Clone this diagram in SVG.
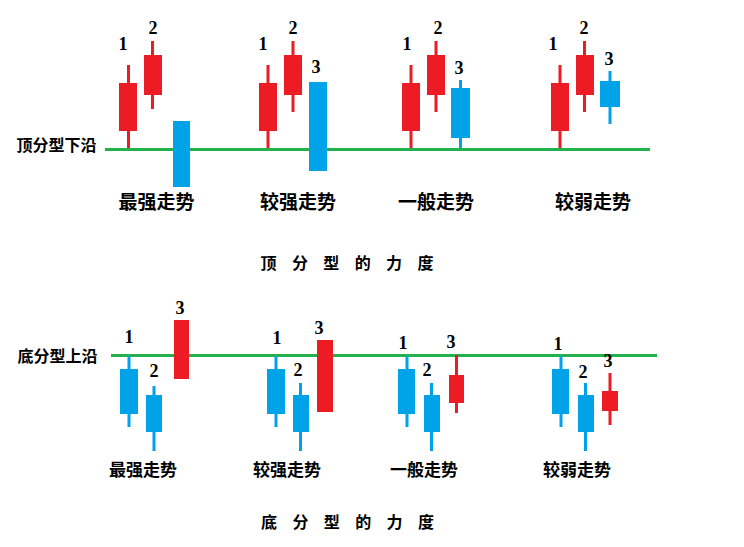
<svg xmlns="http://www.w3.org/2000/svg" width="744" height="547" viewBox="0 0 744 547">
<style>
.r{fill:#ED1C24}
.b{fill:#00A2E8}
.g{fill:#22B14C}
.n{font-family:"Liberation Serif",serif;font-size:18px;font-weight:bold;fill:#000;text-anchor:middle}
.c{font-family:"Noto Sans CJK SC",sans-serif;font-weight:bold;fill:#000;text-anchor:middle}
.lt{font-size:19px}
.lb{font-size:17px}
.s{font-size:16px}
</style>
<rect width="744" height="547" fill="#fff"/>
<g id="connectors">
<rect id="top-line" class="g" x="105" y="148" width="545" height="3"/>
<rect id="bottom-line" class="g" x="111" y="354" width="546" height="3"/>
</g>
<g id="top-labels">
<text class="c s" x="56.5" y="151">顶分型下沿</text>
<text class="c s" x="347" y="269" textLength="173" lengthAdjust="spacing">顶 分 型 的 力 度</text>
</g>
<g id="top-g1">
<rect class="r" x="127" y="65" width="3" height="83"/><rect class="r" x="119" y="83" width="18" height="48"/>
<rect class="r" x="151" y="41" width="3" height="68"/><rect class="r" x="144" y="55" width="18" height="40"/>
<rect class="b" x="173" y="121" width="17" height="66"/>
<text class="n" x="123" y="50">1</text><text class="n" x="153" y="34">2</text>
<text class="c lt" x="156.5" y="209">最强走势</text>
</g>
<g id="top-g2">
<rect class="r" x="266.5" y="65" width="3" height="83"/><rect class="r" x="259" y="83" width="18" height="48"/>
<rect class="r" x="291.5" y="41" width="3" height="71"/><rect class="r" x="284" y="55" width="18" height="40"/>
<rect class="b" x="309" y="82" width="18" height="89"/>
<text class="n" x="263" y="50">1</text><text class="n" x="293" y="34">2</text><text class="n" x="316" y="73">3</text>
<text class="c lt" x="298" y="209">较强走势</text>
</g>
<g id="top-g3">
<rect class="r" x="409.5" y="65" width="3" height="83"/><rect class="r" x="402" y="83" width="18" height="48"/>
<rect class="r" x="434.5" y="41" width="3" height="71"/><rect class="r" x="427" y="55" width="18" height="40"/>
<rect class="b" x="459" y="80" width="3" height="68"/><rect class="b" x="451" y="88" width="19" height="50"/>
<text class="n" x="407" y="50">1</text><text class="n" x="438" y="34">2</text><text class="n" x="459" y="74">3</text>
<text class="c lt" x="436" y="209">一般走势</text>
</g>
<g id="top-g4">
<rect class="r" x="558.5" y="65" width="3" height="83"/><rect class="r" x="551" y="83" width="18" height="48"/>
<rect class="r" x="583" y="41" width="3" height="71"/><rect class="r" x="576" y="55" width="18" height="40"/>
<rect class="b" x="608.5" y="71" width="3" height="53"/><rect class="b" x="600" y="81" width="20" height="26"/>
<text class="n" x="553" y="50">1</text><text class="n" x="584" y="34">2</text><text class="n" x="609" y="65">3</text>
<text class="c lt" x="593" y="209">较弱走势</text>
</g>
<g id="bottom-labels">
<text class="c s" x="57.5" y="362">底分型上沿</text>
<text class="c s" x="347.5" y="528" textLength="173" lengthAdjust="spacing">底 分 型 的 力 度</text>
</g>
<g id="bottom-g1">
<rect class="b" x="127.5" y="356" width="3" height="71"/><rect class="b" x="120" y="369" width="18" height="45"/>
<rect class="b" x="152.5" y="386" width="3" height="65"/><rect class="b" x="146" y="395" width="16" height="37"/>
<rect class="r" x="174" y="320" width="15" height="59"/>
<text class="n" x="129" y="343">1</text><text class="n" x="154" y="377">2</text><text class="n" x="180" y="314">3</text>
<text class="c lb" x="143" y="476">最强走势</text>
</g>
<g id="bottom-g2">
<rect class="b" x="274.5" y="356" width="3" height="71"/><rect class="b" x="267" y="369" width="18" height="45"/>
<rect class="b" x="299" y="383" width="3" height="68"/><rect class="b" x="293" y="395" width="16" height="37"/>
<rect class="r" x="317" y="340" width="16" height="72"/>
<text class="n" x="277" y="344">1</text><text class="n" x="298" y="376">2</text><text class="n" x="319" y="334">3</text>
<text class="c lb" x="287" y="476">较强走势</text>
</g>
<g id="bottom-g3">
<rect class="b" x="405.5" y="356" width="3" height="71"/><rect class="b" x="398" y="369" width="17" height="45"/>
<rect class="b" x="430" y="383" width="3" height="68"/><rect class="b" x="424" y="395" width="16" height="37"/>
<rect class="r" x="455" y="355" width="3" height="58"/><rect class="r" x="449" y="375" width="15" height="28"/>
<text class="n" x="403" y="349">1</text><text class="n" x="427" y="376">2</text><text class="n" x="451" y="348">3</text>
<text class="c lb" x="424" y="476">一般走势</text>
</g>
<g id="bottom-g4">
<rect class="b" x="559.5" y="356" width="3" height="71"/><rect class="b" x="552" y="369" width="17" height="45"/>
<rect class="b" x="584" y="383" width="3" height="68"/><rect class="b" x="578" y="395" width="16" height="37"/>
<rect class="r" x="608.5" y="373" width="3" height="52"/><rect class="r" x="602" y="391" width="16" height="20"/>
<text class="n" x="558" y="350">1</text><text class="n" x="583" y="378">2</text><text class="n" x="608" y="367">3</text>
<text class="c lb" x="577" y="476">较弱走势</text>
</g>
</svg>
